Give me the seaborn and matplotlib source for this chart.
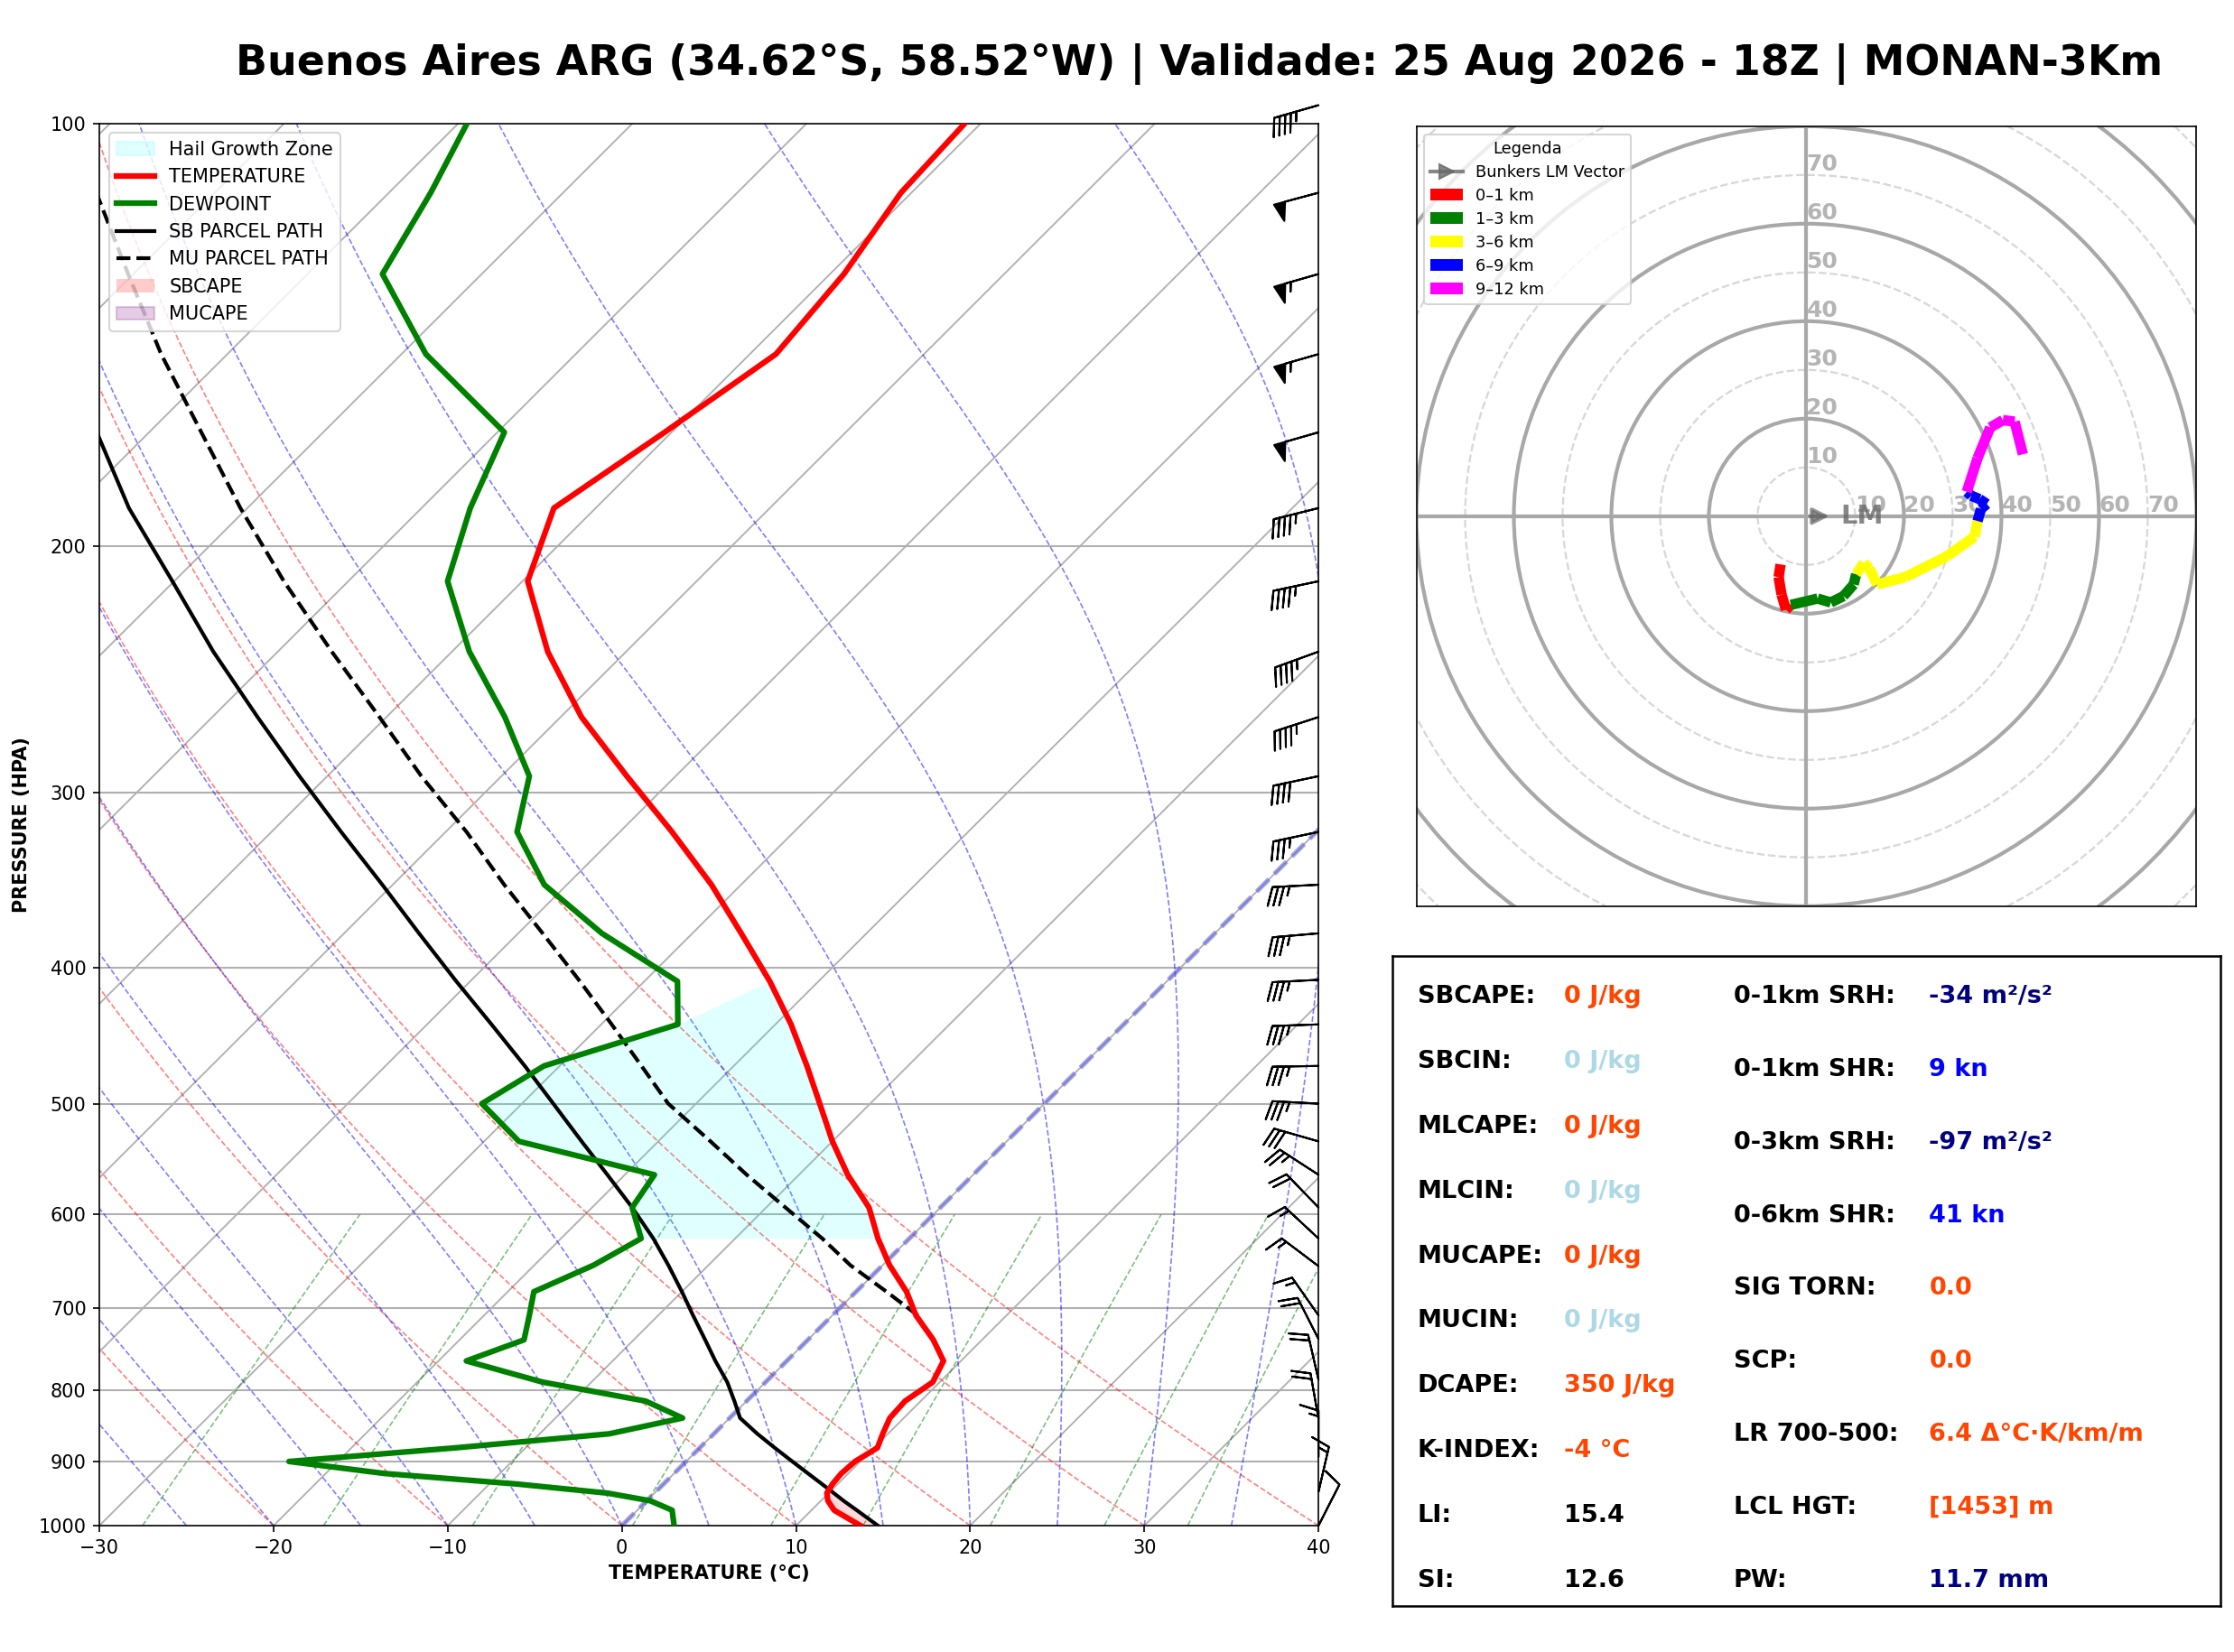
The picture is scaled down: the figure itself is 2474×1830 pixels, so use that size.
import numpy as np
import matplotlib
matplotlib.use("Agg")
import matplotlib.pyplot as plt
from matplotlib.patches import Patch, Circle
from matplotlib.lines import Line2D
import seaborn as sns

# ==========================================
# 1. SOUNDING DATA
# ==========================================
pres = np.array([1000, 975, 960, 948, 934, 918, 900, 880, 860, 838, 815, 790, 763, 737,
                 708, 681, 652, 624, 593, 562, 532, 500, 470, 439, 409, 378, 349, 320,
                 292, 265, 238, 212, 188, 166, 146, 128, 112, 97], dtype=float)
temp = np.array([13.7, 11.3, 10.4, 9.9, 9.7, 9.6, 9.7, 10.2, 9.7, 9.2, 9.1, 9.6, 9.0, 7.2,
                 4.8, 2.9, 0.4, -1.8, -4.1, -7.2, -10.0, -12.9, -15.8, -19.1, -22.8, -27.2,
                 -31.7, -37.0, -42.8, -48.8, -54.5, -59.7, -62.4, -60.4, -58.5, -59.2, -60.6, -61.0])
dewp = np.array([3.0, 2.0, 0.2, -2.7, -8.4, -16.6, -22.8, -14.0, -6.0, -2.7, -5.8, -12.8, -18.4,
                 -16.3, -17.4, -18.5, -16.6, -15.4, -17.7, -18.3, -28.0, -32.3, -30.9, -25.6,
                 -28.1, -35.2, -41.3, -45.9, -48.4, -53.2, -59.0, -64.3, -67.2, -69.6, -78.6,
                 -85.7, -87.6, -90.0])
sb_parcel = np.array([14.7, 12.6, 11.3, 10.3, 9.1, 7.7, 6.1, 4.3, 2.5, 0.6, -0.7, -2.2, -4.1,
                      -5.9, -8.0, -10.0, -12.3, -14.7, -17.7, -21.0, -24.4, -28.2, -32.0, -36.3,
                      -40.8, -45.7, -50.6, -56.0, -61.6, -67.4, -73.7, -80.1, -86.8, -93.0,
                      -99.0, np.nan, np.nan, np.nan])
mu_parcel = np.array([np.nan] * 14 +
                     [4.9, 1.75, -1.85, -5.0, -8.9, -13.0, -17.0, -21.6, -25.3, -29.4, -33.7,
                      -38.6, -43.6, -48.8, -54.6, -60.4, -66.9, -73.7, -80.4, -87.0, -93.8,
                      -100.3, -106.8, -114.0])

hgz_base, hgz_top = 624, 409

# wind barbs (direction from, knots)
barb_p = np.array([97, 112, 128, 146, 166, 188, 212, 238, 265, 292, 320, 349, 378, 408, 439,
                   470, 500, 532, 562, 593, 624, 653, 708, 736, 787, 839, 893, 946, 1000])
barb_dir = np.array([254, 255, 254, 254, 254, 256, 258, 250, 252, 258, 258, 267, 265, 267, 268,
                     269, 273, 286, 303, 316, 313, 307, 325, 333, 347, 350, 0, 13, 27])
barb_spd = np.array([45, 50, 55, 55, 50, 45, 45, 45, 45, 40, 35, 35, 35, 35, 35,
                     35, 35, 30, 25, 20, 15, 15, 15, 20, 20, 20, 15, 15, 10])

# hodograph (kt)
hodo_u = [-5.3, -5.7, -5.1, -4.2,
          -3.2, 2.3, 5.0, 7.6, 9.7,
          10.2, 11.8, 12.9, 14.5, 20.3, 28.7, 34.5, 34.8,
          35.1, 35.8, 37.0, 35.5, 33.8,
          32.9, 35.1, 37.7, 40.3, 42.7, 44.4]
hodo_v = [-9.9, -12.5, -16.1, -19.2,
          -18.2, -16.9, -17.7, -16.4, -14.0,
          -11.9, -9.6, -10.7, -14.0, -12.5, -8.3, -4.2, -2.6,
          -1.0, 1.5, 2.5, 3.5, 4.2,
          5.0, 11.9, 18.2, 19.7, 19.4, 12.7]
hodo_layer = [0] * 4 + [1] * 5 + [2] * 8 + [3] * 5 + [4] * 6
layer_names = ['0–1 km', '1–3 km', '3–6 km', '6–9 km', '9–12 km']
layer_colors = ['red', 'green', 'yellow', 'blue', 'magenta']
lm_u, lm_v = 5.5, 0.0

# indices table
left_labels = ['SBCAPE:', 'SBCIN:', 'MLCAPE:', 'MLCIN:', 'MUCAPE:', 'MUCIN:', 'DCAPE:',
               'K-INDEX:', 'LI:', 'SI:']
left_values = ['0 J/kg', '0 J/kg', '0 J/kg', '0 J/kg', '0 J/kg', '0 J/kg', '350 J/kg',
               '-4 °C', '15.4', '12.6']
left_colors = ['orangered', 'lightblue', 'orangered', 'lightblue', 'orangered', 'lightblue',
               'orangered', 'orangered', 'black', 'black']
right_labels = ['0-1km SRH:', '0-1km SHR:', '0-3km SRH:', '0-6km SHR:', 'SIG TORN:', 'SCP:',
                'LR 700-500:', 'LCL HGT:', 'PW:']
right_values = ['-34 m²/s²', '9 kn', '-97 m²/s²', '41 kn', '0.0', '0.0',
                '6.4 Δ°C·K/km/m', '[1453] m', '11.7 mm']
right_colors = ['navy', 'blue', 'navy', 'blue', 'orangered', 'orangered', 'orangered',
                'orangered', 'navy']

title = ('Buenos Aires ARG (34.62°S, 58.52°W) | Validade: 25 Aug 2026 - 18Z | MONAN-3Km')

# ==========================================
# 2. SKEW-T HELPERS
# ==========================================
SKEW = 35.0  # degC per ln(p) unit -> 45 deg isotherms


def skew(t, p):
    return np.asarray(t) + SKEW * np.log(1000.0 / np.asarray(p))


def moist_adiabat(t0, p):
    T = np.empty_like(p)
    T[0] = t0 + 273.15

    def dtdp(tk, pp):
        es = 6.112 * np.exp(17.67 * (tk - 273.15) / (tk - 29.65))
        rs = 0.622 * es / (pp - es)
        return (287.04 * tk + 2.501e6 * rs) / (1005.7 + 2.501e6 ** 2 * rs * 0.622 / (287.04 * tk * tk)) / pp

    for i in range(1, len(p)):
        dp = p[i] - p[i - 1]
        k1 = dtdp(T[i - 1], p[i - 1])
        k2 = dtdp(T[i - 1] + k1 * dp, p[i])
        T[i] = T[i - 1] + 0.5 * (k1 + k2) * dp
    return T - 273.15


# ==========================================
# 3. FIGURE
# ==========================================
fig = plt.figure(figsize=(2474 / 150, 1830 / 150), dpi=150)
ax = fig.add_axes([0.0445, 0.0765, 0.5457, 0.8486])
ax.set_yscale('log')

p_line = np.geomspace(1000, 100, 200)

# isotherms + pressure grid
for t in range(-120, 50, 10):
    ax.plot(skew(t, [1050, 90]), [1050, 90], color='#b0b0b0', lw=0.9, zorder=1)
for p in range(200, 1000, 100):
    ax.axhline(p, color='#b0b0b0', lw=1.0, zorder=1)

# dry adiabats
for th in range(-40, 41, 10):
    tt = (th + 273.15) * (p_line / 1000.0) ** 0.2857 - 273.15
    ax.plot(skew(tt, p_line), p_line, color='red', ls='--', lw=0.8, alpha=0.5, zorder=1)

# moist adiabats
for t0 in range(-40, 46, 5):
    tt = moist_adiabat(float(t0), p_line)
    ax.plot(skew(tt, p_line), p_line, color='blue', ls='--', lw=0.8, alpha=0.5, zorder=1)

# mixing ratio lines
p_mix = np.linspace(1000, 600, 50)
for w in [0.4, 1, 2, 4, 7, 10, 16, 24, 32]:
    e = p_mix * w / (622.0 + w)
    lg = np.log(e / 6.112)
    td = 243.5 * lg / (17.67 - lg)
    ax.plot(skew(td, p_mix), p_mix, color='green', ls='--', lw=0.8, alpha=0.5, zorder=1)

# 0 degC isotherm
ax.plot(skew(0, [1000, 100]), [1000, 100], color='#5a5ad8', ls='--', lw=2.5, alpha=0.55, zorder=2)

# hail growth zone
hgz = (pres <= hgz_base) & (pres >= hgz_top)
hgz_left = skew(dewp, pres)[hgz]
hgz_right = skew(temp, pres)[hgz]
hgz_left[-1] = hgz_right[-1]
ax.fill_betweenx(pres[hgz], hgz_left, hgz_right, color='cyan', alpha=0.12, lw=0, zorder=2)

# surface-based positive area
ax.fill_betweenx(pres, skew(temp, pres), skew(sb_parcel, pres),
                 where=(sb_parcel > temp) & (pres > 900), interpolate=True,
                 color='red', alpha=0.15, lw=0, zorder=2)

# profiles
sns.lineplot(x=skew(temp, pres), y=pres, sort=False, estimator=None, color='red',
             linewidth=3, ax=ax, zorder=4)
sns.lineplot(x=skew(dewp, pres), y=pres, sort=False, estimator=None, color='green',
             linewidth=3, ax=ax, zorder=4)
ok = ~np.isnan(sb_parcel)
sns.lineplot(x=skew(sb_parcel[ok], pres[ok]), y=pres[ok], sort=False, estimator=None,
             color='black', linewidth=2, ax=ax, zorder=3)
ok = ~np.isnan(mu_parcel)
sns.lineplot(x=skew(mu_parcel[ok], pres[ok]), y=pres[ok], sort=False, estimator=None,
             color='black', linewidth=2, linestyle='--', ax=ax, zorder=3)

# wind barbs
rad = np.deg2rad(barb_dir)
bu = -barb_spd * np.sin(rad)
bv = -barb_spd * np.cos(rad)
ax.barbs(np.full(len(barb_p), 40.0), barb_p, bu, bv, length=7, clip_on=False,
         flip_barb=True, zorder=6)

ax.set_xlim(-30, 40)
ax.set_ylim(1000, 100)
ticks_p = [100, 200, 300, 400, 500, 600, 700, 800, 900, 1000]
ax.set_yticks(ticks_p)
ax.set_yticklabels([str(t) for t in ticks_p])
ax.yaxis.set_minor_locator(matplotlib.ticker.NullLocator())
ax.set_xticks(range(-30, 41, 10))
ax.set_xlabel('TEMPERATURE (°C)', fontsize=10, fontweight='bold')
ax.set_ylabel('PRESSURE (HPA)', fontsize=10, fontweight='bold')

handles = [Patch(facecolor='cyan', edgecolor='cyan', alpha=0.12),
           Line2D([0], [0], color='red', lw=3),
           Line2D([0], [0], color='green', lw=3),
           Line2D([0], [0], color='black', lw=2),
           Line2D([0], [0], color='black', lw=2, ls='--'),
           Patch(facecolor='red', alpha=0.2),
           Patch(facecolor='purple', edgecolor='purple', alpha=0.2)]
labels = ['Hail Growth Zone', 'TEMPERATURE', 'DEWPOINT', 'SB PARCEL PATH', 'MU PARCEL PATH',
          'SBCAPE', 'MUCAPE']
ax.legend(handles, labels, loc='upper left', fontsize=10)

# ==========================================
# 4. HODOGRAPH
# ==========================================
ax2 = fig.add_axes([0.634, 0.4515, 0.3492, 0.4721])
for r in range(10, 130, 10):
    if r % 20 == 0:
        ax2.add_patch(Circle((0, 0), r, fill=False, color='#a8a8a8', lw=2))
    else:
        ax2.add_patch(Circle((0, 0), r, fill=False, color='#d8d8d8', lw=1.1, ls='--'))
ax2.axhline(0, color='#a8a8a8', lw=2)
ax2.axvline(0, color='#a8a8a8', lw=2)
for r in range(10, 80, 10):
    ax2.text(r, 0, str(r), ha='left', va='bottom', fontsize=12, fontweight='bold', color='#b4b4b4')
    ax2.text(0, r, str(r), ha='left', va='bottom', fontsize=12, fontweight='bold', color='#b4b4b4')

hu = np.array(hodo_u)
hv = np.array(hodo_v)
hl = np.array(hodo_layer)
for k, col in enumerate(layer_colors):
    idx = list(np.where(hl == k)[0])
    if idx[-1] + 1 < len(hu):
        idx.append(idx[-1] + 1)
    for a, b in zip(idx[:-1], idx[1:]):
        ax2.plot([hu[a], hu[b]], [hv[a], hv[b]], color=col, lw=5.5, solid_capstyle='butt', zorder=4)

ax2.annotate('', xy=(lm_u, lm_v), xytext=(0, 0),
             arrowprops=dict(arrowstyle='-|>', color='dimgray', lw=2, alpha=0.7, mutation_scale=18),
             zorder=5)
ax2.text(lm_u + 1.5, lm_v, 'LM', ha='left', va='center', fontsize=14, fontweight='bold',
         color='dimgray', alpha=0.8, zorder=5)
ax2.set_xlim(-80, 80)
ax2.set_ylim(-80, 80)
ax2.set_xticks([])
ax2.set_yticks([])

h_handles = [Line2D([0], [0], color='dimgray', lw=2, marker='>', markersize=8, alpha=0.8)]
h_handles += [Patch(facecolor=c) for c in layer_colors]
ax2.legend(h_handles, ['Bunkers LM Vector'] + layer_names, loc='upper left', fontsize=8.5,
           title='Legenda', title_fontsize=8.5, labelspacing=0.45)

# ==========================================
# 5. INDICES TABLE
# ==========================================
ax3 = fig.add_axes([0.6233, 0.0279, 0.3707, 0.3934])
ax3.set_xticks([])
ax3.set_yticks([])
for s in ax3.spines.values():
    s.set_linewidth(1.2)
ys = np.linspace(0.9375, 0.039, len(left_labels))
for y, lab, val, col in zip(ys, left_labels, left_values, left_colors):
    ax3.text(0.030, y, lab, ha='left', va='center', fontsize=13, fontweight='bold')
    ax3.text(0.207, y, val, ha='left', va='center', fontsize=13, fontweight='bold', color=col)
ys = np.linspace(0.9375, 0.039, len(right_labels))
for y, lab, val, col in zip(ys, right_labels, right_values, right_colors):
    ax3.text(0.412, y, lab, ha='left', va='center', fontsize=13, fontweight='bold')
    ax3.text(0.648, y, val, ha='left', va='center', fontsize=13, fontweight='bold', color=col)

fig.text(0.537, 0.961, title, ha='center', va='center', fontsize=22, fontweight='bold')

fig.savefig('out.png', dpi=150)
